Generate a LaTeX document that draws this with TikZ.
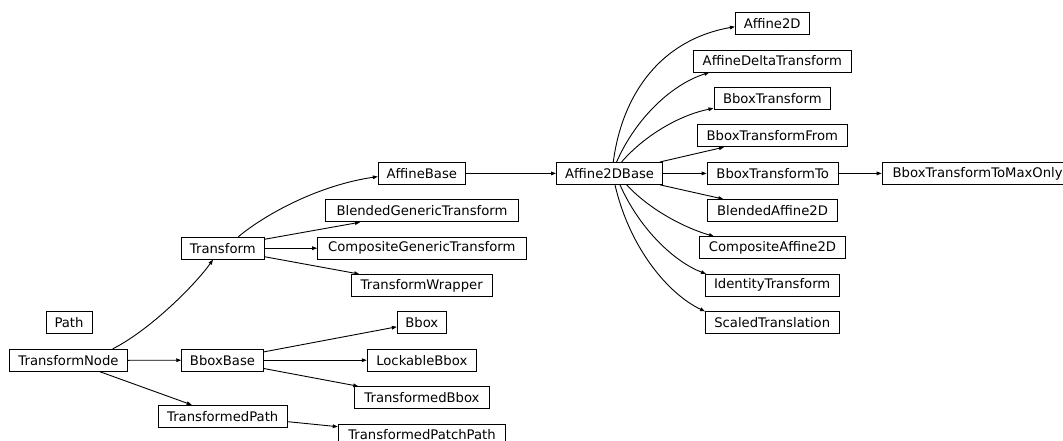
\documentclass[tikz,border=0pt]{standalone}
\usepackage{fontspec}
\setmainfont{DejaVu Sans}
\usetikzlibrary{arrows.meta}
\begin{document}
\begin{tikzpicture}[x=1pt,y=-1pt,
  cls/.style={draw, line width=0.9pt, inner sep=0pt, minimum height=22pt, font=\fontsize{13.2}{15}\selectfont},
  edge/.style={line width=0.9pt, -{Triangle[length=5pt,width=3.6pt]}}]
\useasboundingbox (0,0) rectangle (1063,441);
% column 1
\node[cls,minimum width=46pt]    (path) at (69,322.7)  {Path};
\node[cls,minimum width=118.4pt] (tn)   at (68.5,360.3) {TransformNode};
% column 2
\node[cls,minimum width=82.3pt]  (tr)   at (222.8,248.2) {Transform};
\node[cls,minimum width=81.6pt]  (bb)   at (222.5,360.2) {BboxBase};
\node[cls,minimum width=129.3pt] (tp)   at (222.7,416.3) {TransformedPath};
% column 3
\node[cls,minimum width=87pt]    (ab)   at (421.8,173.4) {AffineBase};
\node[cls,minimum width=192.6pt] (bgt)  at (422,210.8)   {BlendedGenericTransform};
\node[cls,minimum width=208.3pt] (cgt)  at (421.8,248.2) {CompositeGenericTransform};
\node[cls,minimum width=140.7pt] (tw)   at (421.7,285.5) {TransformWrapper};
\node[cls,minimum width=49pt]    (bbox) at (421.8,322.8) {Bbox};
\node[cls,minimum width=109pt]   (lb)   at (421.8,360.2) {LockableBbox};
\node[cls,minimum width=134.6pt] (tb)   at (422,397.7)   {TransformedBbox};
\node[cls,minimum width=167.4pt] (tpp)  at (422,435)     {TransformedPatchPath};
% column 4
\node[cls,minimum width=106.2pt] (a2b)  at (609.6,173.4) {Affine2DBase};
% column 5
\node[cls,minimum width=73.7pt]  (a2d)  at (772.2,23.7)  {Affine2D};
\node[cls,minimum width=158pt]   (adt)  at (772.3,61)    {AffineDeltaTransform};
\node[cls,minimum width=116.7pt] (bt)   at (772.3,98.3)  {BboxTransform};
\node[cls,minimum width=150pt]   (btf)  at (772.3,135.7) {BboxTransformFrom};
\node[cls,minimum width=131.3pt] (btt)  at (772.7,173.4) {BboxTransformTo};
\node[cls,minimum width=130.4pt] (ba2d) at (772.5,210.5) {BlendedAffine2D};
\node[cls,minimum width=146.4pt] (ca2d) at (772.5,247.8) {CompositeAffine2D};
\node[cls,minimum width=134.3pt] (it)   at (772.2,285.3) {IdentityTransform};
\node[cls,minimum width=134.3pt] (st)   at (772.2,322.8) {ScaledTranslation};
% column 6
\node[cls,minimum width=191pt,anchor=west] (bttmo) at (881.7,173.4) {BboxTransformToMaxOnly};
% edges
\draw[edge] ([xshift=44.2pt]tn.north) .. controls (150,330) and (195,285) .. ([xshift=-9.8pt]tr.south);
\draw[edge] (tn.east) -- (bb.west);
\draw[edge] ([xshift=31.5pt]tn.south) -- ([xshift=-31pt]tp.north);
\draw[edge] ([xshift=15.5pt]tr.north) .. controls (267,213) and (320,185) .. ([yshift=-3.2pt]ab.west);
\draw[edge] ([yshift=8.9pt]tr.east) -- ([xshift=-62pt]bgt.south);
\draw[edge] (tr.east) -- (cgt.west);
\draw[edge] ([yshift=-8.5pt]tr.east) -- ([xshift=-62.4pt]tw.north);
\draw[edge] (ab.east) -- (a2b.west);
\draw[edge] ([xshift=3.7pt]a2b.north) .. controls (622,95) and (660,40) .. ([yshift=-3pt]a2d.west);
\draw[edge] ([xshift=7pt]a2b.north) .. controls (635,120) and (670,85) .. ([xshift=-63pt]adt.south);
\draw[edge] ([xshift=12pt]a2b.north) .. controls (645,135) and (680,115) .. ([yshift=-10pt]bt.west);
\draw[edge] ([xshift=50.4pt]a2b.north) -- ([xshift=-48.3pt]btf.south);
\draw[edge] (a2b.east) -- (btt.west);
\draw[edge] (btt.east) -- (bttmo.west);
\draw[edge] ([xshift=50.4pt]a2b.south) -- ([xshift=-49.2pt]ba2d.north);
\draw[edge] ([xshift=17pt]a2b.south) .. controls (650,210) and (685,228) .. ([xshift=-58.5pt]ca2d.north);
\draw[edge] ([xshift=10.4pt]a2b.south) .. controls (640,230) and (675,262) .. ([xshift=-66.2pt]it.north);
\draw[edge] ([xshift=5.4pt]a2b.south) .. controls (630,250) and (670,295) .. ([xshift=-67.2pt]st.north);
\draw[edge] ([yshift=8.3pt]bb.east) -- ([yshift=-4pt]bbox.west);
\draw[edge] (bb.east) -- (lb.west);
\draw[edge] ([yshift=-8.3pt]bb.east) -- ([xshift=-63.7pt]tb.north);
\draw[edge] ([yshift=-5.4pt]tp.east) -- ([yshift=8.3pt]tpp.west);
\end{tikzpicture}
\end{document}
